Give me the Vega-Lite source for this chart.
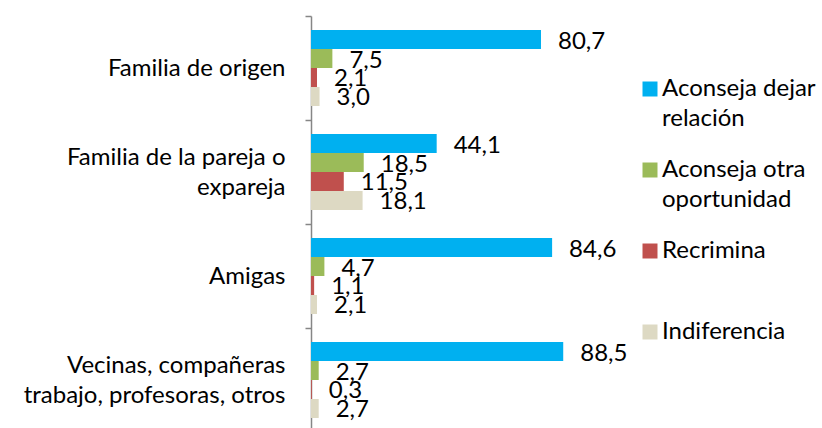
{
  "$schema": "https://vega.github.io/schema/vega-lite/v6.json",
  "autosize": "none",
  "width": 285,
  "height": 416,
  "padding": {"left": 311, "top": 16, "right": 226, "bottom": 0},
  "background": "white",
  "config": {
    "view": {"stroke": null},
    "font": "Lato",
    "style": {"guide-label": {"lineHeight": 30}},
    "locale": {"number": {"decimal": ",", "thousands": ".", "grouping": [3], "currency": ["", " €"]}}
  },
  "data": {
    "values": [
      {"cat": "Familia de origen", "serie": "Aconseja dejar relación", "v": 80.7},
      {"cat": "Familia de origen", "serie": "Aconseja otra oportunidad", "v": 7.5},
      {"cat": "Familia de origen", "serie": "Recrimina", "v": 2.1},
      {"cat": "Familia de origen", "serie": "Indiferencia", "v": 3.0},
      {"cat": "Familia de la pareja o expareja", "serie": "Aconseja dejar relación", "v": 44.1},
      {"cat": "Familia de la pareja o expareja", "serie": "Aconseja otra oportunidad", "v": 18.5},
      {"cat": "Familia de la pareja o expareja", "serie": "Recrimina", "v": 11.5},
      {"cat": "Familia de la pareja o expareja", "serie": "Indiferencia", "v": 18.1},
      {"cat": "Amigas", "serie": "Aconseja dejar relación", "v": 84.6},
      {"cat": "Amigas", "serie": "Aconseja otra oportunidad", "v": 4.7},
      {"cat": "Amigas", "serie": "Recrimina", "v": 1.1},
      {"cat": "Amigas", "serie": "Indiferencia", "v": 2.1},
      {"cat": "Vecinas, compañeras trabajo, profesoras, otros", "serie": "Aconseja dejar relación", "v": 88.5},
      {"cat": "Vecinas, compañeras trabajo, profesoras, otros", "serie": "Aconseja otra oportunidad", "v": 2.7},
      {"cat": "Vecinas, compañeras trabajo, profesoras, otros", "serie": "Recrimina", "v": 0.3},
      {"cat": "Vecinas, compañeras trabajo, profesoras, otros", "serie": "Indiferencia", "v": 2.7}
    ]
  },
  "encoding": {
    "y": {
      "field": "cat",
      "type": "nominal",
      "sort": ["Familia de origen", "Familia de la pareja o expareja", "Amigas", "Vecinas, compañeras trabajo, profesoras, otros"],
      "scale": {"paddingInner": 0, "paddingOuter": 0},
      "axis": {
        "title": null,
        "tickBand": "extent",
        "domainColor": "#868686",
        "tickColor": "#868686",
        "domainWidth": 1.5,
        "tickWidth": 1.5,
        "tickSize": 6,
        "labelFontSize": 24,
        "labelColor": "black",
        "labelPadding": 20,
        "labelLimit": 400,
        "labelOffset": {"condition": {"test": "datum.value == 'Familia de la pareja o expareja' || datum.value == 'Vecinas, compañeras trabajo, profesoras, otros'", "value": -15}, "value": 0},
        "labelExpr": "datum.label == 'Familia de la pareja o expareja' ? ['Familia de la pareja o', 'expareja'] : datum.label == 'Vecinas, compañeras trabajo, profesoras, otros' ? ['Vecinas, compañeras', 'trabajo, profesoras, otros'] : datum.label"
      }
    },
    "yOffset": {
      "field": "serie",
      "sort": ["Aconseja dejar relación", "Aconseja otra oportunidad", "Recrimina", "Indiferencia"],
      "scale": {"paddingInner": 0, "paddingOuter": 0.737}
    },
    "x": {"field": "v", "type": "quantitative", "scale": {"domain": [0, 100]}, "axis": null}
  },
  "layer": [
    {
      "mark": {"type": "bar"},
      "encoding": {
        "color": {
          "field": "serie",
          "type": "nominal",
          "sort": ["Aconseja dejar relación", "Aconseja otra oportunidad", "Recrimina", "Indiferencia"],
          "scale": {
            "domain": ["Aconseja dejar relación", "Aconseja otra oportunidad", "Recrimina", "Indiferencia"],
            "range": ["#00B0F0", "#9BBB59", "#C0504D", "#DDD9C3"]
          },
          "legend": {
            "orient": "none",
            "legendX": 327,
            "legendY": 61,
            "title": null,
            "symbolType": "square",
            "symbolSize": 225,
            "symbolStrokeWidth": 0,
            "labelFontSize": 24,
            "labelColor": "black",
            "labelLimit": 300,
            "labelOffset": 0,
            "gridAlign": "all",
            "rowPadding": 27,
            "labelExpr": "datum.label == 'Aconseja dejar relación' ? ['Aconseja dejar', 'relación'] : datum.label == 'Aconseja otra oportunidad' ? ['Aconseja otra', 'oportunidad'] : datum.label"
          }
        }
      }
    },
    {
      "mark": {"type": "text", "align": "left", "baseline": "middle", "dx": 17, "dy": 2, "fontSize": 24, "color": "black"},
      "encoding": {"text": {"field": "v", "type": "quantitative", "format": ".1f"}}
    }
  ]
}
